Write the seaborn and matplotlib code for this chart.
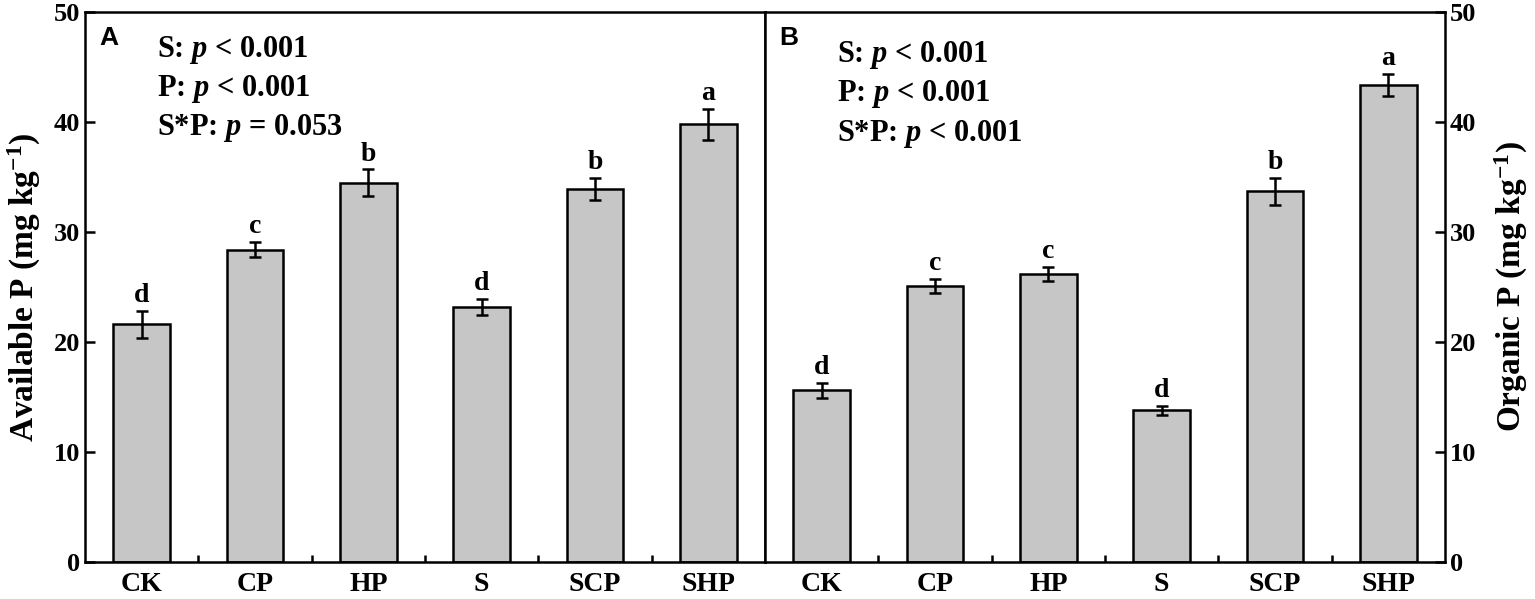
import numpy as np
import pandas as pd
import matplotlib
matplotlib.use("Agg")
import matplotlib.pyplot as plt
import seaborn as sns

# ── DATA ─────────────────────────────────────────────────────
treatments = ["CK", "CP", "HP", "S", "SCP", "SHP"]

avail_mean = [21.6, 28.4, 34.5, 23.2, 33.9, 39.8]
avail_err = [1.2, 0.7, 1.2, 0.7, 1.0, 1.4]
avail_letters = ["d", "c", "b", "d", "b", "a"]
avail_stats = ["S: $p$ < 0.001", "P: $p$ < 0.001", "S*P: $p$ = 0.053"]

org_mean = [15.6, 25.1, 26.2, 13.8, 33.7, 43.4]
org_err = [0.7, 0.65, 0.65, 0.4, 1.2, 1.0]
org_letters = ["d", "c", "c", "d", "b", "a"]
org_stats = ["S: $p$ < 0.001", "P: $p$ < 0.001", "S*P: $p$ < 0.001"]

# ── STYLE ────────────────────────────────────────────────────
sns.set_theme(style="ticks")
plt.rcParams["font.family"] = ["Liberation Serif", "DejaVu Serif"]
plt.rcParams["font.weight"] = "bold"
plt.rcParams["axes.labelweight"] = "bold"
plt.rcParams["text.color"] = "black"
plt.rcParams["axes.labelcolor"] = "black"
plt.rcParams["xtick.color"] = "black"
plt.rcParams["ytick.color"] = "black"
plt.rcParams["mathtext.fontset"] = "custom"
plt.rcParams["mathtext.rm"] = "Liberation Serif:bold"
plt.rcParams["mathtext.it"] = "Liberation Serif:italic:bold"
plt.rcParams["mathtext.bf"] = "Liberation Serif:bold"

BAR_COLOR = "#c6c6c6"

fig = plt.figure(figsize=(15.35, 5.99), dpi=100)
ax_a = fig.add_axes([85 / 1535, 37 / 599, 680 / 1535, 550 / 599])
ax_b = fig.add_axes([765 / 1535, 37 / 599, 680 / 1535, 550 / 599])


def draw_panel(ax, means, errs, letters, stats, label, ylabel, stat_y):
    df = pd.DataFrame({"treatment": treatments, "value": means})
    sns.barplot(data=df, x="treatment", y="value", ax=ax, color=BAR_COLOR,
                edgecolor="black", linewidth=1.8, width=0.5, errorbar=None,
                saturation=1)
    xs = np.arange(len(treatments))
    ax.errorbar(xs, means, yerr=errs, fmt="none", ecolor="black",
                elinewidth=1.8, capsize=4.5, capthick=1.8)
    for x, m, e, l in zip(xs, means, errs, letters):
        ax.text(x, m + e + 0.25, l, ha="center", va="bottom",
                fontsize=20, fontweight="bold")

    ax.set_xlim(-0.5, 5.5)
    ax.set_ylim(0, 50)
    ax.set_yticks([0, 10, 20, 30, 40, 50])
    ax.set_xticks(xs)
    ax.set_xticks(xs[:-1] + 0.5, minor=True)
    ax.set_xlabel("")
    ax.set_ylabel(ylabel, fontsize=24, fontweight="bold")
    ax.tick_params(axis="x", which="major", length=0, labelsize=20, pad=7)
    ax.tick_params(axis="x", which="minor", direction="in", length=5, width=1.8)
    ax.tick_params(axis="y", direction="in", length=7, width=1.8, labelsize=19)
    for lab in ax.get_xticklabels() + ax.get_yticklabels():
        lab.set_fontweight("bold")
    for sp in ax.spines.values():
        sp.set_visible(True)
        sp.set_linewidth(1.8)
        sp.set_color("black")

    ax.text(0.035, 0.953, label, transform=ax.transAxes, ha="center",
            va="center", fontsize=19, fontweight="bold",
            family=["Liberation Sans", "DejaVu Sans"])
    for i, s in enumerate(stats):
        ax.text(0.106, stat_y - i * 0.071, s, transform=ax.transAxes,
                ha="left", va="center", fontsize=22, fontweight="bold")


draw_panel(ax_a, avail_mean, avail_err, avail_letters, avail_stats, "A",
           "Available P (mg kg$^{-1}$)", 0.931)
draw_panel(ax_b, org_mean, org_err, org_letters, org_stats, "B",
           "Organic P (mg kg$^{-1}$)", 0.921)

ax_a.yaxis.labelpad = 8
ax_b.yaxis.tick_right()
ax_b.yaxis.set_label_position("right")
ax_b.yaxis.labelpad = 12
ax_b.tick_params(axis="y", which="both", left=False, right=True)

fig.savefig("out.png", dpi=100)
